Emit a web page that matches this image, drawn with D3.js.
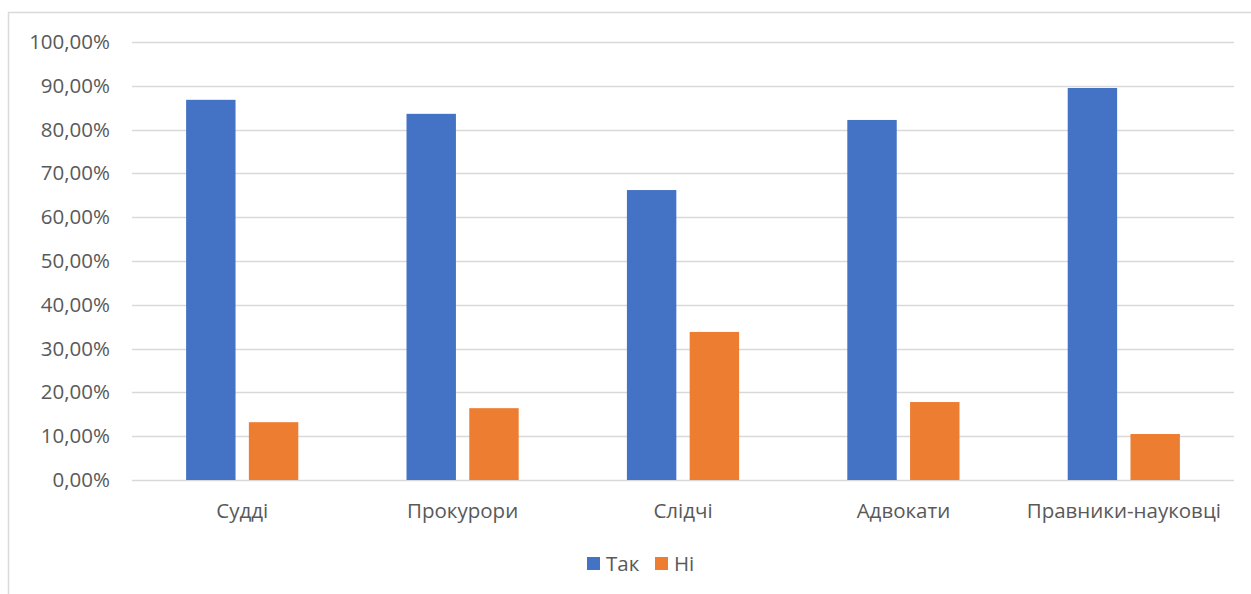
<!DOCTYPE html>
<html><head><meta charset="utf-8">
<script src="https://cdn.jsdelivr.net/npm/d3@7"></script>
<style>body{margin:0;background:#fff;} svg{display:block;}</style>
</head><body>
<svg id="c" width="1251" height="594"></svg>
<script>
const categories = ["Судді", "Прокурори", "Слідчі", "Адвокати", "Правники-науковці"];
const seriesNames = ["Так", "Ні"];
const tak = [0.868, 0.836, 0.662, 0.822, 0.895];
const ni = [0.132, 0.164, 0.338, 0.178, 0.105];
const yTicks = [0, 0.1, 0.2, 0.3, 0.4, 0.5, 0.6, 0.7, 0.8, 0.9, 1.0];
const colors = ["#4472C4", "#ED7D31"];

(function () {
const svg = d3.select("#c");
const font = "'Open Sans', sans-serif";
const fs = 20.5;
const txt = "#595959";

// chart border
svg.append("rect").attr("x", 8.5).attr("y", 12.5).attr("width", 1300).attr("height", 700)
  .attr("fill", "none").attr("stroke", "#d9d9d9").attr("stroke-width", 1.5);

const pLeft = 132, pRight = 1234, pTop = 42, pBottom = 480;
const x = d3.scaleBand().domain(categories).range([pLeft, pRight]).paddingInner(0).paddingOuter(0);
const y = d3.scaleLinear().domain([0, 1]).range([pBottom, pTop]);

const bw = x.bandwidth();
const barW = bw / (2 + 0.27 + 2.19);
const gap = barW * 0.27;
const groupW = 2 * barW + gap;

// gridlines
svg.append("g").selectAll("line").data(yTicks).join("line")
  .attr("x1", pLeft).attr("x2", pRight)
  .attr("y1", d => Math.round(y(d)) + 0.5).attr("y2", d => Math.round(y(d)) + 0.5)
  .attr("stroke", "#d9d9d9").attr("stroke-width", 1.5);

// y axis labels
const fmt = d => d3.format(".2f")(d * 100).replace(".", ",") + "%";
const yAxis = d3.axisLeft(y).tickValues(yTicks).tickFormat(fmt).tickSize(0).tickPadding(0);
const ya = svg.append("g").attr("transform", `translate(${pLeft - 22},0)`).call(yAxis);
ya.select(".domain").remove();
ya.selectAll("text").attr("font-family", font).attr("font-size", fs).attr("fill", txt);

// bars
const data = [tak, ni];
data.forEach((vals, si) => {
  svg.append("g").selectAll("rect").data(categories).join("rect")
    .attr("x", c => x(c) + (bw - groupW) / 2 + si * (barW + gap))
    .attr("width", barW)
    .attr("y", (c, i) => y(vals[i]))
    .attr("height", (c, i) => y(0) - y(vals[i]))
    .attr("fill", colors[si]);
});

// x axis labels
const xAxis = d3.axisBottom(x).tickSize(0).tickPadding(0);
const xa = svg.append("g").attr("transform", `translate(0,518)`).call(xAxis);
xa.select(".domain").remove();
xa.selectAll("text").attr("font-family", font).attr("font-size", fs).attr("fill", txt).attr("y", 0).attr("dy", 0);

// legend
const leg = svg.append("g");
const legItems = [{n: seriesNames[0], x: 587, c: colors[0]}, {n: seriesNames[1], x: 655, c: colors[1]}];
legItems.forEach(d => {
  leg.append("rect").attr("x", d.x).attr("y", 557).attr("width", 13).attr("height", 13).attr("fill", d.c);
  leg.append("text").attr("x", d.x + 19).attr("y", 571).attr("font-family", font).attr("font-size", fs)
    .attr("fill", txt).text(d.n);
});
})();
</script>
</body></html>
